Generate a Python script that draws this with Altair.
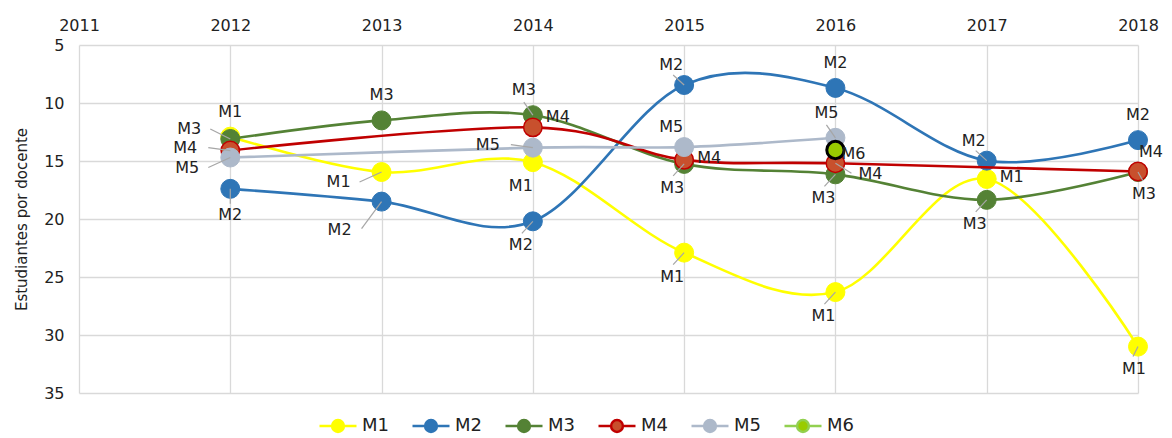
import altair as alt
import pandas as pd

# ---------------- data ----------------
years = [2012, 2013, 2014, 2015, 2016, 2017, 2018]
series_names = ["M1", "M2", "M3", "M4", "M5", "M6"]

m1 = [12.9, 15.95, 15.1, 22.9, 26.3, 16.55, 31.0]
m2 = [17.4, 18.5, 20.2, 8.45, 8.7, 14.97, 13.2]
m3 = [13.1, 11.5, 11.05, 15.25, 16.15, 18.35, 15.95]
m4 = [14.1, None, 12.1, 14.9, 15.2, None, 15.9]
m5 = [14.7, None, 13.85, 13.8, 13.0, None, None]
m6 = [None, None, None, None, 14.05, None, None]

# label placement codes per point (style)
pos_m1 = ["N", "WSW", "SW", "SW", "SW", "E", "S2"]
pos_m2 = ["S", "SWW", "SW", "NW", "N", "NW", "N"]
pos_m3 = ["WNW", "N", "NNW", "SW", "SW", "SW", "SSE"]
pos_m4 = ["W", None, "ENE", "E", "SE", None, "NE"]
pos_m5 = ["WSW", None, "W", "NW", "NNW", None, None]
pos_m6 = [None, None, None, None, "E6", None, None]

# leader line shown per point (style)
lead_m1 = [0, 1, 0, 1, 1, 0, 1]
lead_m2 = [1, 1, 1, 1, 0, 1, 0]
lead_m3 = [1, 0, 1, 1, 1, 1, 1]
lead_m4 = [1, 0, 0, 0, 1, 0, 0]
lead_m5 = [1, 0, 1, 0, 1, 0, 0]
lead_m6 = [0, 0, 0, 0, 0, 0, 0]

# ---------------- styles ----------------
FONT = "DejaVu Sans"
TXT = "#222222"
stroke_colors = ["#FFFF00", "#2E75B6", "#548235", "#C00000", "#ADB9CA", "#92D050"]
fill_colors = ["#FFFF00", "#2E75B6", "#548235", "#C8502D", "#ADB9CA", "#99CC00"]
marker_stroke_w = [1, 1, 1, 1.5, 1, 3]
marker_size = [360, 360, 360, 340, 360, 300]

label_off = {
    "N": (0, -25), "NW": (-13, -20), "NNW": (-9, -25), "NE": (13, -19),
    "E": (25, -2), "ENE": (25, -10), "E6": (18, 4), "SE": (35, 11),
    "S": (0, 26), "S2": (-4, 22), "SSE": (6, 22), "SW": (-12, 24),
    "SWW": (-42, 28), "W": (-45, -3), "WNW": (-41, -10), "WSW": (-43, 10),
}
leader_off = {
    "N": (0, -12), "NW": (-11, -10), "NNW": (-9, -13), "SE": (16, 10),
    "S": (0, 15), "S2": (-5, 10), "SSE": (5, 9), "SW": (-11, 12),
    "SWW": (-20, 27), "W": (-22, -3), "WNW": (-20, -10), "WSW": (-22, 10),
}

rows = []
all_vals = [m1, m2, m3, m4, m5, m6]
all_pos = [pos_m1, pos_m2, pos_m3, pos_m4, pos_m5, pos_m6]
all_lead = [lead_m1, lead_m2, lead_m3, lead_m4, lead_m5, lead_m6]
for name, vals, poss, leads in zip(series_names, all_vals, all_pos, all_lead):
    for yr, v, p, l in zip(years, vals, poss, leads):
        if v is None:
            continue
        rows.append({"year": yr, "serie": name, "value": v, "pos": p, "lead": bool(l)})
df = pd.DataFrame(rows)

x_enc = alt.X(
    "year:Q",
    scale=alt.Scale(domain=[2011, 2018], nice=False, zero=False),
    axis=alt.Axis(
        orient="top", values=list(range(2011, 2019)), format="d", title=None,
        grid=True, ticks=False, domain=False, labelFlush=False, labelOverlap=False,
        labelPadding=12, labelFontSize=16, labelFont=FONT, labelColor=TXT,
        gridColor="#D9D9D9", gridWidth=1.3,
    ),
)
y_enc = alt.Y(
    "value:Q",
    scale=alt.Scale(domain=[5, 35], reverse=True, nice=False, zero=False),
    axis=alt.Axis(
        values=[5, 10, 15, 20, 25, 30, 35], title="Estudiantes por docente",
        grid=True, ticks=False, domain=False, labelPadding=15, labelFontSize=16,
        labelFont=FONT, labelColor=TXT, titleFont=FONT, titleFontSize=15,
        titleFontWeight="normal", titleColor=TXT, titlePadding=14,
        gridColor="#D9D9D9", gridWidth=1.3,
    ),
)

SYMBOL = ("M-1,0L-0.33,0M0.33,0L1,0M-0.32,0A0.32,0.32,0,1,1,0.32,0"
          "A0.32,0.32,0,1,1,-0.32,0Z")
legend = alt.Legend(
    title=None, orient="none", legendX=239, legendY=361, direction="horizontal",
    symbolType=SYMBOL, symbolSize=1369, symbolStrokeWidth=2.5,
    labelFontSize=18, labelFont=FONT, labelColor=TXT, labelOffset=4,
    columnPadding=18, padding=0,
)
stroke_scale = alt.Scale(domain=series_names, range=stroke_colors)
fill_scale = alt.Scale(domain=series_names, range=fill_colors)

base = alt.Chart(df)
layers = []
for i, name in enumerate(series_names):
    sub = base.transform_filter(alt.datum.serie == name)
    n_pts = sum(v is not None for v in all_vals[i])
    if n_pts > 1:
        layers.append(
            sub.mark_line(interpolate="cardinal", strokeWidth=2.6).encode(
                x=x_enc, y=y_enc,
                stroke=alt.Stroke("serie:N", scale=stroke_scale, legend=legend),
            )
        )
    if name == "M6":
        layers.append(
            sub.mark_circle(size=marker_size[i], opacity=1, stroke="#000000",
                            strokeWidth=marker_stroke_w[i]).encode(
                x=x_enc, y=y_enc,
                fill=alt.Fill("serie:N", scale=fill_scale, legend=legend),
            )
        )
    else:
        layers.append(
            sub.mark_circle(size=marker_size[i], opacity=1, strokeWidth=marker_stroke_w[i]).encode(
                x=x_enc, y=y_enc,
                fill=alt.Fill("serie:N", scale=fill_scale, legend=legend),
                stroke=alt.Stroke("serie:N", scale=stroke_scale, legend=legend),
            )
        )

for code, (lx, ly) in leader_off.items():
    layers.append(
        base.transform_filter((alt.datum.pos == code) & alt.datum.lead)
        .mark_rule(color="#A6A6A6", strokeWidth=1.2, x2Offset=lx, y2Offset=ly)
        .encode(x=x_enc, y=y_enc, x2="year:Q", y2="value:Q")
    )

for code, (dx, dy) in label_off.items():
    layers.append(
        base.transform_filter(alt.datum.pos == code)
        .mark_text(dx=dx, dy=dy, font=FONT, fontSize=16, color=TXT,
                   align="center", baseline="middle")
        .encode(x=x_enc, y=y_enc, text="serie:N")
    )

chart = (
    alt.layer(*layers)
    .properties(
        width=1059, height=348,
        padding={"left": 71, "top": 37, "right": 26, "bottom": 41},
        autosize=alt.AutoSizeParams(type="none"),
    )
    .configure_view(strokeWidth=0)
)

chart.save("out.html", embed_options={"renderer": "svg", "actions": False})
